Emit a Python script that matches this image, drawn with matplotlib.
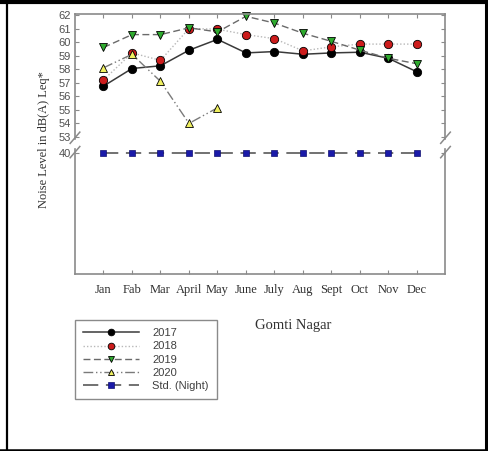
import matplotlib
matplotlib.use("Agg")
import matplotlib.pyplot as plt
from matplotlib.lines import Line2D

months = ['Jan', 'Fab', 'Mar', 'April', 'May', 'June', 'July', 'Aug', 'Sept', 'Oct', 'Nov', 'Dec']
y2017 = [56.75, 58.05, 58.25, 59.4, 60.2, 59.2, 59.3, 59.1, 59.2, 59.25, 58.8, 57.8]
y2018 = [57.2, 59.2, 58.65, 61.0, 60.95, 60.55, 60.25, 59.35, 59.65, 59.85, 59.85, 59.85]
y2019 = [59.6, 60.55, 60.55, 61.05, 60.75, 61.9, 61.4, 60.65, 60.05, 59.4, 58.8, 58.4]
y2020 = [58.1, 59.1, 57.1, 54.0, 55.15]
std_night = [40] * 12

x = list(range(1, 13))
serif = 'Liberation Serif'
sans = 'Liberation Sans'
spine_col = '#8a8a8a'

fig = plt.figure(figsize=(4.89, 4.51), dpi=100)
W, H = 489, 451
left, right = 75 / W, 445.5 / W
ax_top = fig.add_axes([left, 1 - 139 / H, right - left, 125 / H])
ax_bot = fig.add_axes([left, 1 - 274 / H, right - left, 125 / H])

line_kw = dict(markersize=6, markeredgecolor='black', markeredgewidth=0.6, clip_on=False)
h1, = ax_top.plot(x, y2017, color='#3a3a3a', lw=1.1, ls='-', marker='o',
                  markerfacecolor='black', label='2017', **line_kw)
h2, = ax_top.plot(x, y2018, color='#b8b8b8', lw=1.0, ls=(0, (1, 1.5)), marker='o',
                  markerfacecolor='#cc1c1c', label='2018', **line_kw)
h3, = ax_top.plot(x, y2019, color='#6a6a6a', lw=1.0, ls=(0, (5, 2.5)), marker='v',
                  markerfacecolor='#2eaa2e', label='2019', **line_kw)
h4, = ax_top.plot(x[:len(y2020)], y2020, color='#7a7a7a', lw=1.0,
                  ls=(0, (7, 2, 1, 2, 1, 2)), marker='^',
                  markerfacecolor='#f0f060', label='2020', **line_kw)
h5, = ax_bot.plot(x, std_night, color='#4a4a4a', lw=1.1, ls=(0, (10, 5)), marker='s',
                  markersize=5, markerfacecolor='#1a1aa8', markeredgecolor='#101070',
                  markeredgewidth=0.5, clip_on=False, label='Std. (Night)')

ax_top.set_ylim(52.85, 62.07)
ax_top.set_yticks(range(53, 63))
ax_bot.set_ylim(31.05, 40.27)
ax_bot.set_yticks([40])

for ax in (ax_top, ax_bot):
    ax.set_xlim(0, 13)
    ax.set_xticks(x)
    for s in ax.spines.values():
        s.set_color(spine_col)
        s.set_linewidth(1.2)
    ax.tick_params(direction='in', length=3, width=0.8, color=spine_col,
                   labelsize=8, labelcolor='#505050', pad=3, right=True)
    for t in ax.get_yticklabels():
        t.set_fontfamily(sans)

ax_top.spines['bottom'].set_visible(False)
ax_top.tick_params(axis='x', top=True, bottom=False, labelbottom=False)
ax_bot.spines['top'].set_visible(False)
ax_bot.tick_params(axis='x', top=False, bottom=True, labelsize=9,
                   labelcolor='#303030', pad=7)
ax_bot.set_xticklabels(months, fontfamily=serif)

# break marks on both sides
dx, dy = 0.013, 0.045
for ax, yc in ((ax_top, 0.01), (ax_bot, 0.975)):
    for xc in (0, 1):
        ax.plot([xc - dx, xc + dx], [yc - dy, yc + dy], transform=ax.transAxes,
                color=spine_col, lw=1.1, clip_on=False)

fig.text(44 / W, 1 - 140 / H, 'Noise Level in dB(A) Leq*', rotation=90,
         ha='center', va='center', fontsize=9, fontfamily=serif, color='#303030')
fig.text(293 / W, 1 - 326 / H, 'Gomti Nagar', ha='center', va='center',
         fontsize=10.5, fontfamily=serif, color='#303030')

leg = fig.legend(handles=[h1, h2, h3, h4, h5], loc='upper left',
                 bbox_to_anchor=(75 / W, 1 - 320 / H), borderaxespad=0,
                 prop={'family': sans, 'size': 8}, markerscale=0.8,
                 handlelength=5.0, handletextpad=1.2, labelspacing=0.28,
                 borderpad=0.75, fancybox=False, framealpha=1, edgecolor=spine_col)
leg.get_frame().set_linewidth(1.0)
for t in leg.get_texts():
    t.set_color('#404040')

# outer frame
fig.add_artist(Line2D([0, 1], [1 - 2 / H, 1 - 2 / H], color='black', lw=3, transform=fig.transFigure))
fig.add_artist(Line2D([7 / W, 7 / W], [0, 1], color='black', lw=1.6, transform=fig.transFigure))
fig.add_artist(Line2D([486.5 / W, 486.5 / W], [0, 1], color='black', lw=2.2, transform=fig.transFigure))
fig.add_artist(Line2D([0, 1], [1 - 449.5 / H, 1 - 449.5 / H], color='black', lw=1.8, transform=fig.transFigure))

fig.savefig('out.png', dpi=100)
